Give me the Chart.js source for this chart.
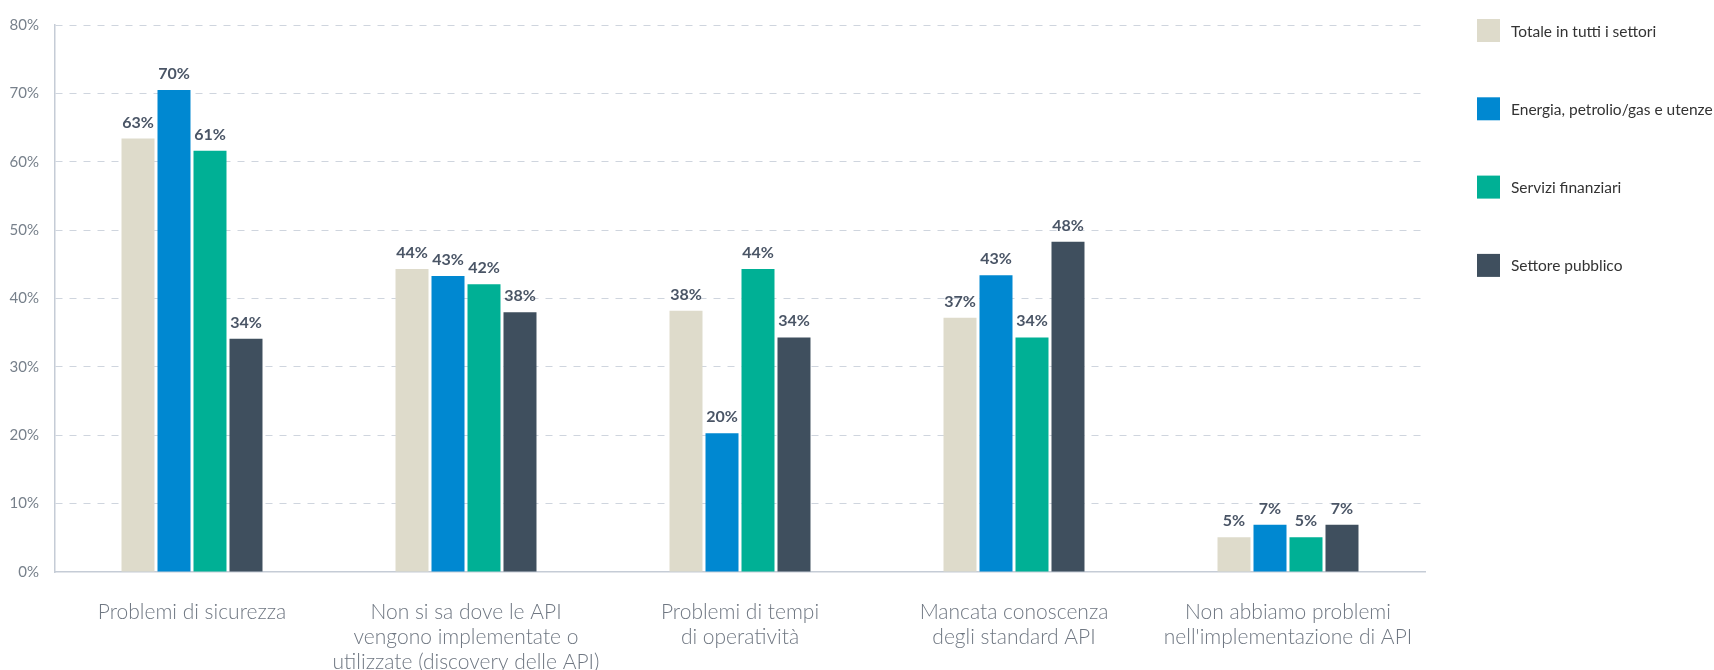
<!DOCTYPE html>
<html>
<head>
<meta charset="utf-8">
<script src="https://cdn.jsdelivr.net/npm/chart.js@4/dist/chart.umd.min.js"></script>
<style>
  html, body { margin: 0; padding: 0; background: #ffffff; }
  #wrap { width: 1714px; height: 670px; position: relative; }
</style>
</head>
<body>
<div id="wrap"><canvas id="c"></canvas></div>
<script>
const categories = [
  "Problemi di sicurezza",
  ["Non si sa dove le API", "vengono implementate o", "utilizzate (discovery delle API)"],
  ["Problemi di tempi", "di operatività"],
  ["Mancata conoscenza", "degli standard API"],
  ["Non abbiamo problemi", "nell'implementazione di API"]
];
const seriesNames = [
  "Totale in tutti i settori",
  "Energia, petrolio/gas e utenze",
  "Servizi finanziari",
  "Settore pubblico"
];
const totaleValues   = [63.4, 44.3, 38.2, 37.2, 5.1];
const energiaValues  = [70.5, 43.3, 20.3, 43.4, 6.9];
const finanzValues   = [61.6, 42.1, 44.3, 34.3, 5.1];
const pubblicoValues = [34.1, 38.0, 34.3, 48.3, 6.9];
const totaleLabels   = ["63%", "44%", "38%", "37%", "5%"];
const energiaLabels  = ["70%", "43%", "20%", "43%", "7%"];
const finanzLabels   = ["61%", "42%", "44%", "34%", "5%"];
const pubblicoLabels = ["34%", "38%", "34%", "48%", "7%"];
const yTicks = [0, 10, 20, 30, 40, 50, 60, 70, 80];
const colors = ["#dedbcb", "#0088d1", "#00b095", "#3f4f5e"];

const valueSets = [totaleValues, energiaValues, finanzValues, pubblicoValues];
const labelSets = [totaleLabels, energiaLabels, finanzLabels, pubblicoLabels];

const datasets = seriesNames.map((name, i) => ({
  label: name,
  data: valueSets[i],
  valueLabels: labelSets[i],
  backgroundColor: colors[i],
  borderWidth: 0,
  categoryPercentage: 0.5255,
  barPercentage: 0.9167
}));

const valueLabelPlugin = {
  id: 'valueLabels',
  afterDatasetsDraw(chart) {
    const ctx = chart.ctx;
    ctx.save();
    ctx.font = "bold 16px Lato";
    ctx.fillStyle = "#4a5566";
    ctx.textAlign = "center";
    ctx.textBaseline = "alphabetic";
    chart.data.datasets.forEach((ds, di) => {
      const meta = chart.getDatasetMeta(di);
      meta.data.forEach((bar, i) => {
        ctx.fillText(ds.valueLabels[i], bar.x, bar.y - 11);
      });
    });
    ctx.restore();
  }
};

const sideLegendPlugin = {
  id: 'sideLegend',
  afterDraw(chart) {
    const ctx = chart.ctx;
    ctx.save();
    ctx.font = "15.5px Lato";
    ctx.textBaseline = "middle";
    ctx.textAlign = "left";
    const boxX = 1477, boxSize = 23, textX = 1511, top = 19, step = 78.3;
    chart.data.datasets.forEach((ds, i) => {
      const y = top + i * step;
      ctx.fillStyle = ds.backgroundColor;
      ctx.fillRect(boxX, y, boxSize, boxSize);
      ctx.fillStyle = "#333333";
      ctx.fillText(ds.label, textX, y + boxSize / 2 + 1);
    });
    ctx.restore();
  }
};

new Chart(document.getElementById('c'), {
  type: 'bar',
  data: { labels: categories, datasets: datasets },
  options: {
    responsive: true,
    maintainAspectRatio: false,
    animation: false,
    layout: { padding: { top: 19, right: 289, left: 0, bottom: 0 } },
    plugins: {
      legend: { display: false },
      tooltip: { enabled: false }
    },
    scales: {
      x: {
        grid: { display: false, drawTicks: false },
        border: { display: true, color: "#c5ccd6", width: 1.5 },
        ticks: {
          color: "#6f7782",
          font: { family: "Lato", size: 21, weight: 300, lineHeight: 1.19 },
          padding: 28,
          maxRotation: 0,
          autoSkip: false
        },
        afterFit(axis) { axis.height = 98; }
      },
      y: {
        min: 0,
        max: 80,
        afterBuildTicks(axis) { axis.ticks = yTicks.map(v => ({ value: v })); },
        grid: {
          drawTicks: false,
          color: (c) => (c.tick && c.tick.value === 0) ? "rgba(0,0,0,0)" : "#cfd5de",
          lineWidth: 1
        },
        border: { display: true, color: "#c5ccd6", width: 1.5, dash: [7, 7] },
        ticks: {
          color: "#77808b",
          font: { family: "Lato", size: 15 },
          padding: 16,
          callback: (v) => v + "%"
        },
        afterFit(axis) { axis.width = 55; }
      }
    }
  },
  plugins: [valueLabelPlugin, sideLegendPlugin]
});
</script>
</body>
</html>
